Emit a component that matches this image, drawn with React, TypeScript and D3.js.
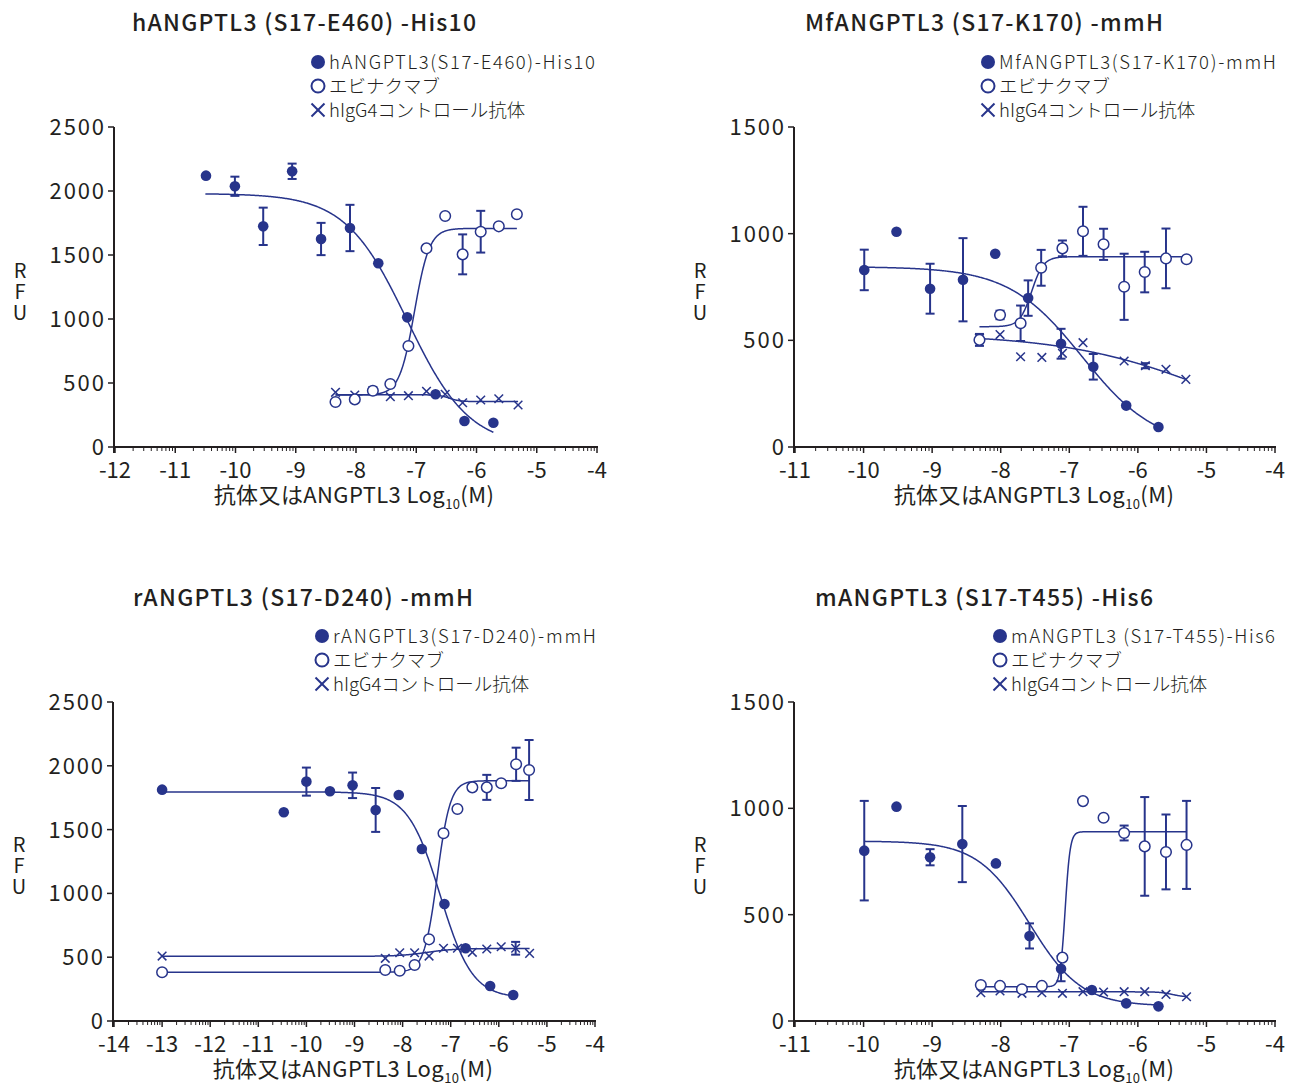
import React from 'react';
import * as d3 from 'd3';

// ---------- Shared labels ----------
const legendOpenLabel = 'エビナクマブ';
const legendXLabel = 'hIgG4コントロール抗体';
const xAxisTitleMain = '抗体又はANGPTL3 Log';
const xAxisTitleSub = '10';
const xAxisTitleEnd = '(M)';
const yAxisLetters = ['R', 'F', 'U'];

// ---------- Panel 1: hANGPTL3(S17-E460)-His10 ----------
const p1Title = 'hANGPTL3 (S17-E460) -His10';
const p1Legend = 'hANGPTL3(S17-E460)-His10';
const p1XTicks = [-12, -11, -10, -9, -8, -7, -6, -5, -4];
const p1YTicks = [0, 500, 1000, 1500, 2000, 2500];
const p1FilledX = [-10.49, -10.01, -9.54, -9.06, -8.58, -8.1, -7.63, -7.15, -6.68, -6.2, -5.72];
const p1FilledY = [2120, 2037, 1724, 2154, 1625, 1711, 1435, 1013, 412, 203, 190];
const p1FilledErr = [0, 75, 146, 60, 126, 181, 0, 0, 0, 0, 0];
const p1OpenX = [-8.34, -8.02, -7.72, -7.43, -7.13, -6.83, -6.52, -6.23, -5.93, -5.63, -5.33];
const p1OpenY = [352, 372, 440, 492, 789, 1552, 1805, 1505, 1682, 1724, 1818];
const p1OpenErr = [0, 0, 0, 0, 0, 0, 0, 156, 163, 0, 0];
const p1CrossX = [-8.34, -8.02, -7.72, -7.43, -7.13, -6.83, -6.52, -6.23, -5.93, -5.63, -5.31];
const p1CrossY = [427, 406, 440, 393, 401, 435, 412, 346, 367, 377, 328];
const p1CrossErr = [0, 0, 0, 0, 0, 0, 0, 0, 0, 0, 0];
// fitted 4PL: [left plateau, right plateau, logEC50, hill], and fitted range
const p1FilledFit = [1980, 0, -7.15, 0.846];
const p1FilledRange = [-10.5, -5.72];
const p1OpenFit = [406, 1708, -7.03, 3.5];
const p1OpenRange = [-8.34, -5.33];
const p1CrossFit = [408, 355, -6.45, 5];
const p1CrossRange = [-8.34, -5.31];

// ---------- Panel 2: MfANGPTL3(S17-K170)-mmH ----------
const p2Title = 'MfANGPTL3 (S17-K170) -mmH';
const p2Legend = 'MfANGPTL3(S17-K170)-mmH';
const p2XTicks = [-11, -10, -9, -8, -7, -6, -5, -4];
const p2YTicks = [0, 500, 1000, 1500];
const p2FilledX = [-9.99, -9.52, -9.03, -8.55, -8.08, -7.6, -7.12, -6.65, -6.17, -5.7];
const p2FilledY = [830, 1009, 742, 784, 906, 698, 484, 376, 194, 94];
const p2FilledErr = [95, 0, 117, 195, 0, 83, 70, 60, 0, 0];
const p2OpenX = [-8.31, -8.01, -7.71, -7.41, -7.1, -6.8, -6.5, -6.2, -5.9, -5.59, -5.29];
const p2OpenY = [502, 619, 580, 840, 931, 1011, 950, 751, 820, 884, 880];
const p2OpenErr = [28, 20, 83, 84, 37, 115, 73, 155, 95, 140, 0];
const p2CrossX = [-8.31, -8.01, -7.71, -7.4, -7.1, -6.8, -6.2, -5.89, -5.59, -5.3];
const p2CrossY = [509, 527, 423, 420, 439, 489, 403, 381, 364, 317];
const p2CrossErr = [0, 0, 0, 0, 0, 0, 0, 12, 0, 0];
const p2FilledFit = [845, 0, -6.81, 0.81];
const p2FilledRange = [-9.99, -5.7];
const p2OpenFit = [564, 892, -7.55, 5];
const p2OpenRange = [-8.31, -5.29];
const p2CrossFit = [530, 0, -4.87, 0.4];
const p2CrossRange = [-8.31, -5.3];

// ---------- Panel 3: rANGPTL3(S17-D240)-mmH ----------
const p3Title = 'rANGPTL3 (S17-D240) -mmH';
const p3Legend = 'rANGPTL3(S17-D240)-mmH';
const p3XTicks = [-14, -13, -12, -11, -10, -9, -8, -7, -6, -5, -4];
const p3YTicks = [0, 500, 1000, 1500, 2000, 2500];
const p3FilledX = [-13.0, -10.47, -10.0, -9.51, -9.04, -8.56, -8.08, -7.6, -7.13, -6.69, -6.18, -5.7];
const p3FilledY = [1813, 1636, 1876, 1800, 1847, 1654, 1771, 1348, 917, 570, 274, 204];
const p3FilledErr = [0, 0, 110, 0, 100, 172, 0, 0, 0, 0, 0, 0];
const p3OpenX = [-13.0, -8.36, -8.06, -7.75, -7.45, -7.15, -6.86, -6.55, -6.25, -5.95, -5.64, -5.37];
const p3OpenY = [382, 400, 394, 439, 640, 1471, 1661, 1831, 1831, 1863, 2012, 1967];
const p3OpenErr = [0, 0, 0, 0, 0, 0, 0, 18, 98, 0, 130, 235];
const p3CrossX = [-13.0, -8.36, -8.06, -7.75, -7.45, -7.15, -6.86, -6.55, -6.25, -5.95, -5.65, -5.36];
const p3CrossY = [509, 491, 535, 535, 509, 570, 570, 538, 564, 582, 570, 530];
const p3CrossErr = [0, 0, 0, 0, 0, 0, 0, 0, 0, 0, 50, 0];
const p3FilledFit = [1795, 180, -7.22, 1.3];
const p3FilledRange = [-13.0, -5.7];
const p3OpenFit = [382, 1883, -7.28, 3.2];
const p3OpenRange = [-13.0, -5.37];
const p3CrossFit = [507, 568, -7.5, 1.5];
const p3CrossRange = [-13.0, -5.36];

// ---------- Panel 4: mANGPTL3(S17-T455)-His6 ----------
const p4Title = 'mANGPTL3 (S17-T455) -His6';
const p4Legend = 'mANGPTL3 (S17-T455)-His6';
const p4XTicks = [-11, -10, -9, -8, -7, -6, -5, -4];
const p4YTicks = [0, 500, 1000, 1500];
const p4FilledX = [-9.99, -9.52, -9.03, -8.56, -8.07, -7.58, -7.12, -6.67, -6.17, -5.7];
const p4FilledY = [801, 1008, 770, 832, 741, 400, 246, 146, 83, 69];
const p4FilledErr = [234, 0, 38, 179, 0, 59, 59, 0, 0, 0];
const p4OpenX = [-8.29, -8.01, -7.69, -7.4, -7.1, -6.8, -6.5, -6.2, -5.9, -5.59, -5.29];
const p4OpenY = [169, 165, 149, 165, 298, 1034, 956, 884, 821, 795, 828];
const p4OpenErr = [0, 0, 0, 0, 0, 0, 0, 35, 232, 176, 207];
const p4CrossX = [-8.29, -8.01, -7.69, -7.4, -7.1, -6.8, -6.5, -6.2, -5.9, -5.59, -5.29];
const p4CrossY = [133, 141, 130, 133, 130, 138, 136, 138, 138, 125, 114];
const p4CrossErr = [0, 0, 0, 0, 0, 0, 0, 0, 0, 0, 0];
const p4FilledFit = [846, 70, -7.58, 1.15];
const p4FilledRange = [-9.99, -5.7];
const p4OpenFit = [161, 890, -7.06, 12];
const p4OpenRange = [-8.29, -5.29];
const p4CrossFit = [137, 113, -5.5, 5];
const p4CrossRange = [-8.29, -5.29];

// ---------- Styling ----------
const NAVY = '#27348b';
const TEXT = '#231f20';
const FONT = "'Noto Sans CJK JP', 'Noto Sans', sans-serif";

type Series = { x: number[]; y: number[]; err: number[]; fit: number[]; range: number[] };
type PanelCfg = {
  title: string;
  legend: string;
  xTicks: number[];
  yTicks: number[];
  filled: Series;
  open: Series;
  cross: Series;
  box: { x0: number; x1: number; y0: number; y1: number };
  titleY: number;
  titleW: number;
  legendX: number;
  legendY: number;
  legendW: number;
};

const panels: PanelCfg[] = [
  {
    title: p1Title, legend: p1Legend, xTicks: p1XTicks, yTicks: p1YTicks,
    filled: { x: p1FilledX, y: p1FilledY, err: p1FilledErr, fit: p1FilledFit, range: p1FilledRange },
    open: { x: p1OpenX, y: p1OpenY, err: p1OpenErr, fit: p1OpenFit, range: p1OpenRange },
    cross: { x: p1CrossX, y: p1CrossY, err: p1CrossErr, fit: p1CrossFit, range: p1CrossRange },
    box: { x0: 115, x1: 597, y0: 447, y1: 127 }, titleY: 31, titleW: 344,
    legendX: 318, legendY: 62, legendW: 266,
  },
  {
    title: p2Title, legend: p2Legend, xTicks: p2XTicks, yTicks: p2YTicks,
    filled: { x: p2FilledX, y: p2FilledY, err: p2FilledErr, fit: p2FilledFit, range: p2FilledRange },
    open: { x: p2OpenX, y: p2OpenY, err: p2OpenErr, fit: p2OpenFit, range: p2OpenRange },
    cross: { x: p2CrossX, y: p2CrossY, err: p2CrossErr, fit: p2CrossFit, range: p2CrossRange },
    box: { x0: 795, x1: 1275, y0: 447, y1: 127 }, titleY: 31, titleW: 358,
    legendX: 988, legendY: 62, legendW: 277,
  },
  {
    title: p3Title, legend: p3Legend, xTicks: p3XTicks, yTicks: p3YTicks,
    filled: { x: p3FilledX, y: p3FilledY, err: p3FilledErr, fit: p3FilledFit, range: p3FilledRange },
    open: { x: p3OpenX, y: p3OpenY, err: p3OpenErr, fit: p3OpenFit, range: p3OpenRange },
    cross: { x: p3CrossX, y: p3CrossY, err: p3CrossErr, fit: p3CrossFit, range: p3CrossRange },
    box: { x0: 114, x1: 595, y0: 1021, y1: 702 }, titleY: 606, titleW: 340,
    legendX: 322, legendY: 636, legendW: 263,
  },
  {
    title: p4Title, legend: p4Legend, xTicks: p4XTicks, yTicks: p4YTicks,
    filled: { x: p4FilledX, y: p4FilledY, err: p4FilledErr, fit: p4FilledFit, range: p4FilledRange },
    open: { x: p4OpenX, y: p4OpenY, err: p4OpenErr, fit: p4OpenFit, range: p4OpenRange },
    cross: { x: p4CrossX, y: p4CrossY, err: p4CrossErr, fit: p4CrossFit, range: p4CrossRange },
    box: { x0: 795, x1: 1275, y0: 1021, y1: 702 }, titleY: 606, titleW: 338,
    legendX: 1000, legendY: 636, legendW: 264,
  },
];

function fourPL(p: number[], x: number) {
  const [left, right, c, h] = p;
  return right + (left - right) / (1 + Math.pow(10, (x - c) * h));
}

function Cross({ cx, cy, s, sw }: { cx: number; cy: number; s: number; sw: number }) {
  return (
    <g stroke={NAVY} strokeWidth={sw}>
      <line x1={cx - s} y1={cy - s} x2={cx + s} y2={cy + s} />
      <line x1={cx - s} y1={cy + s} x2={cx + s} y2={cy - s} />
    </g>
  );
}

function Panel({ cfg }: { cfg: PanelCfg }) {
  const { box } = cfg;
  const xDom = d3.extent(cfg.xTicks) as [number, number];
  const yDom = d3.extent(cfg.yTicks) as [number, number];
  const x = d3.scaleLinear().domain(xDom).range([box.x0, box.x1]);
  const y = d3.scaleLinear().domain(yDom).range([box.y0, box.y1]);
  const axisX = box.x0 - 1;

  const minorTicks: number[] = [];
  for (let d = xDom[0]; d < xDom[1]; d++) {
    for (let k = 2; k <= 9; k++) minorTicks.push(d + Math.log10(k));
  }

  const line = d3
    .line<[number, number]>()
    .x((d) => x(d[0]))
    .y((d) => y(d[1]));
  const curvePath = (s: Series) => {
    const n = 400;
    const pts: [number, number][] = d3.range(n + 1).map((i) => {
      const xv = s.range[0] + ((s.range[1] - s.range[0]) * i) / n;
      return [xv, fourPL(s.fit, xv)];
    });
    return line(pts) || '';
  };

  const errBars = (s: Series, key: string) =>
    s.x.map((xv, i) =>
      s.err[i] > 0 ? (
        <g key={key + i} stroke={NAVY} strokeWidth={2}>
          <line x1={x(xv)} x2={x(xv)} y1={y(s.y[i] - s.err[i])} y2={y(s.y[i] + s.err[i])} />
          <line x1={x(xv) - 4.5} x2={x(xv) + 4.5} y1={y(s.y[i] - s.err[i])} y2={y(s.y[i] - s.err[i])} />
          <line x1={x(xv) - 4.5} x2={x(xv) + 4.5} y1={y(s.y[i] + s.err[i])} y2={y(s.y[i] + s.err[i])} />
        </g>
      ) : null
    );

  const lx = cfg.legendX;
  const ly = cfg.legendY;
  const titleCx = box.x0 + 189;
  const axisTitleCx = box.x0 + 239;

  return (
    <g fontFamily={FONT}>
      <text
        x={titleCx}
        y={cfg.titleY}
        textAnchor="middle"
        fontSize={23}
        fontWeight={500}
        fill={TEXT}
        textLength={cfg.titleW}
        lengthAdjust="spacing"
      >
        {cfg.title}
      </text>
      {/* legend */}
      <circle cx={lx} cy={ly} r={7} fill={NAVY} />
      <text
        x={lx + 11}
        y={ly + 7}
        fontSize={18.5}
        fill={TEXT}
        fontWeight={300}
        textLength={cfg.legendW}
        lengthAdjust="spacing"
      >
        {cfg.legend}
      </text>
      <circle cx={lx} cy={ly + 24} r={6.5} fill="#fff" stroke={NAVY} strokeWidth={2} />
      <text x={lx + 11} y={ly + 31} fontSize={18.5} fill={TEXT} fontWeight={300}>{legendOpenLabel}</text>
      <Cross cx={lx} cy={ly + 48} s={6.5} sw={2} />
      <text x={lx + 11} y={ly + 55} fontSize={18.5} fill={TEXT} fontWeight={300}>{legendXLabel}</text>

      {/* y axis */}
      <line x1={axisX} x2={axisX} y1={box.y1} y2={box.y0 + 6} stroke={TEXT} strokeWidth={2} />
      {cfg.yTicks.map((t) => (
        <g key={'yt' + t}>
          <line x1={axisX - 6} x2={axisX} y1={y(t)} y2={y(t)} stroke={TEXT} strokeWidth={1.5} />
          <text
            x={axisX - 10}
            y={y(t)}
            dy="0.36em"
            textAnchor="end"
            fontSize={22}
            fill={TEXT}
            textLength={String(t).length * 13.6}
            lengthAdjust="spacing"
          >
            {t}
          </text>
        </g>
      ))}
      {yAxisLetters.map((c, i) => (
        <text key={c} x={box.x0 - 95} y={box.y0 - 169 + i * 21} textAnchor="middle" fontSize={20} fill={TEXT}>
          {c}
        </text>
      ))}

      {/* x axis */}
      <line x1={axisX} x2={box.x1 + 1} y1={box.y0} y2={box.y0} stroke={TEXT} strokeWidth={2} />
      {minorTicks.map((t, i) => (
        <line key={'mt' + i} x1={x(t)} x2={x(t)} y1={box.y0} y2={box.y0 + 4} stroke={TEXT} strokeWidth={1} />
      ))}
      {cfg.xTicks.map((t) => (
        <g key={'xt' + t}>
          <line x1={x(t)} x2={x(t)} y1={box.y0} y2={box.y0 + 6} stroke={TEXT} strokeWidth={1.5} />
          <text x={x(t)} y={box.y0 + 31} textAnchor="middle" fontSize={22} fill={TEXT}>
            {'-' + Math.abs(t)}
          </text>
        </g>
      ))}
      <text
        x={axisTitleCx}
        y={box.y0 + 56}
        textAnchor="middle"
        fontSize={22}
        letterSpacing={0.4}
        fill={TEXT}
      >
        {xAxisTitleMain}
        <tspan fontSize={13} dy={6}>{xAxisTitleSub}</tspan>
        <tspan dy={-6}>{xAxisTitleEnd}</tspan>
      </text>

      {/* curves */}
      {[cfg.cross, cfg.filled, cfg.open].map((s, i) => (
        <path key={'c' + i} d={curvePath(s)} fill="none" stroke={NAVY} strokeWidth={1.5} />
      ))}

      {/* error bars */}
      {errBars(cfg.filled, 'ef')}
      {errBars(cfg.open, 'eo')}
      {errBars(cfg.cross, 'ex')}

      {/* markers */}
      {cfg.cross.x.map((xv, i) => (
        <Cross key={'xm' + i} cx={x(xv)} cy={y(cfg.cross.y[i])} s={4.3} sw={1.5} />
      ))}
      {cfg.open.x.map((xv, i) => (
        <circle key={'om' + i} cx={x(xv)} cy={y(cfg.open.y[i])} r={5.3} fill="#fff" stroke={NAVY} strokeWidth={1.5} />
      ))}
      {cfg.filled.x.map((xv, i) => (
        <circle key={'fm' + i} cx={x(xv)} cy={y(cfg.filled.y[i])} r={5.3} fill={NAVY} />
      ))}
    </g>
  );
}

export default function App() {
  return (
    <svg
      width={1302}
      height={1084}
      style={{ position: 'absolute', left: 0, top: 0, background: '#fff' }}
    >
      <rect width={1302} height={1084} fill="#fff" />
      {panels.map((p, i) => (
        <Panel key={i} cfg={p} />
      ))}
    </svg>
  );
}
